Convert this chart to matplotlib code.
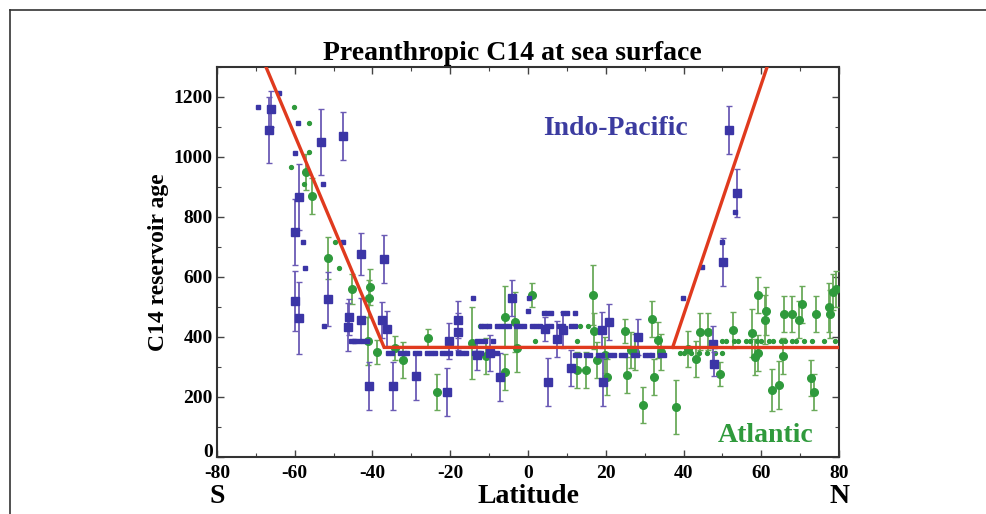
import matplotlib.pyplot as plt
from matplotlib.ticker import MultipleLocator, FuncFormatter
from matplotlib.lines import Line2D

plt.rcParams['axes.unicode_minus'] = False

# Indo-Pacific, points with error bars
bl_lat = [-66.0, -66.5, -60.0, -60.0, -59.0, -59.0, -53.2, -51.5, -47.6, -46.0,
          -46.3, -43.0, -43.0, -37.0, -37.6, -36.3, -41.0, -34.7, -28.7, -20.8,
          -20.2, -17.9, -17.9, -13.2, -9.8, -7.2, -4.1, 4.4, 5.1, 7.5,
          9.0, 11.0, 19.0, 20.8, 19.3, 28.3, 47.6, 47.8, 50.1, 51.7, 53.7]
bl_val = [1160, 1090, 750, 520, 865, 462, 1050, 525, 1070, 465,
          432, 675, 458, 660, 455, 425, 235, 235, 270, 215,
          388, 458, 418, 341, 346, 268, 531, 428, 250, 393,
          424, 297, 424, 451, 251, 401, 378, 311, 651, 1090, 880]
bl_err = [60, 110, 110, 100, 110, 120, 110, 90, 80, 60,
          80, 70, 70, 80, 60, 60, 80, 80, 80, 80,
          60, 60, 60, 50, 60, 80, 60, 40, 80, 60,
          60, 60, 60, 60, 80, 60, 60, 40, 80, 80, 80]

# Indo-Pacific, small points without error bars
bd_lat = [-69.4, -64.0, -59.2, -60.0, -52.7, -57.9, -57.4, -47.6, -52.5, -44.8,
          -14.2, 0.2, 0.0, 39.8, 44.7, 50.0, 53.3,
          -45.5, -44.5, -43.5, -42.5, -41.5,
          -36, -35, -33, -32, -31, -29, -28, -26, -25, -24, -22, -21, -20,
          -18, -17, -16, -14, -13, -12, -10, -9, -8,
          -13, -12, -11, -9,
          -12, -11, -10, -8, -7, -6, -5, -3, -2, -1, 1, 2, 3, 5, 6, 8, 9, 11, 12,
          4, 5, 6, 9, 10, 12,
          12, 13, 15, 16, 18, 19, 21, 22, 24, 25, 27, 28, 30, 31, 32, 34, 35]
bd_val = [1167, 1213, 1113, 1013, 910, 715, 628, 715, 435, 385,
          531, 531, 485, 531, 632, 715, 815,
          385, 385, 385, 385, 385,
          348, 348, 348, 348, 348, 348, 348, 348, 348, 348, 348, 348, 348,
          348, 348, 348, 348, 348, 348, 348, 348, 348,
          385, 385, 385, 385,
          435, 435, 435, 435, 435, 435, 435, 435, 435, 435, 435, 435, 435, 435,
          435, 435, 435, 435, 435,
          480, 480, 480, 480, 480, 480,
          340, 340, 340, 340, 340, 340, 340, 340, 340, 340, 340, 340, 340, 340,
          340, 340, 340]

# Atlantic, points with error bars
gr_lat = [-57.1, -55.6, -51.5, -45.3, -40.7, -40.9, -41.2, -38.8, -34.2, -32.2,
          -25.7, -23.4, -14.4, -10.8, -5.8, -3.4, -5.9, -2.8, 1.0, 12.6,
          14.9, 16.6, 17.1, 17.7, 20.3, 19.8, 24.9, 25.4, 26.5, 27.5,
          29.5, 31.9, 32.4, 33.4, 34.2, 38.0, 41.2, 43.1, 44.2, 46.3,
          49.5, 52.6, 57.6, 58.4, 59.1, 59.1, 61.0, 61.2, 62.7, 64.5,
          65.6, 65.8, 67.9, 69.7, 70.5, 72.8, 73.5, 74.1, 77.4, 77.7,
          78.4, 79.2]
gr_val = [950, 869, 662, 558, 565, 528, 385, 351, 364, 324,
          396, 215, 381, 338, 468, 451, 282, 364, 541, 291,
          291, 540, 420, 324, 267, 341, 420, 272, 358, 351,
          174, 460, 265, 391, 351, 167, 361, 328, 418, 418,
          277, 424, 414, 334, 541, 348, 458, 485, 224, 241,
          338, 475, 475, 458, 508, 264, 217, 475, 498, 475,
          548, 558]
gr_err = [60, 60, 70, 50, 60, 60, 80, 40, 40, 60,
          30, 60, 120, 60, 100, 100, 60, 80, 40, 60,
          60, 100, 60, 60, 60, 60, 40, 60, 60, 60,
          60, 60, 60, 60, 60, 90, 60, 60, 60, 60,
          40, 60, 80, 60, 60, 60, 80, 80, 70, 80,
          60, 60, 60, 60, 60, 60, 60, 60, 80, 80,
          60, 60]

# Atlantic, small points without error bars
gd_lat = [-60.2, -56.3, -56.3, -61.0, -57.6, -49.7, -48.6,
          -11.8, 1.8, -12.3, -10.5, 13.4, 15.5, 12.6,
          39, 40, 42, 44, 46, 48, 50,
          50, 51, 53, 54, 56, 57, 59, 60, 62, 63, 65, 66, 68, 69, 71, 73, 76, 79]
gd_val = [1167, 1113, 1016, 966, 909, 715, 628,
          435, 388, 435, 435, 435, 435, 385,
          348, 348, 348, 348, 348, 348, 348,
          388, 388, 388, 388, 388, 388, 388, 388, 388, 388, 388, 388, 388, 388,
          388, 388, 388, 388]

# red model line
fit_lat = [-67.4, -37.0, 37.2, 61.5]
fit_val = [1300, 365, 365, 1300]
flat_lat = [37.2, 80.0]
flat_val = [365, 365]

blue = '#3b35a6'
blue_bar = '#6b5bb5'
green = '#2f9a3c'
green_bar = '#6aaa5a'
red = '#e03a1e'
serif = 'Liberation Serif'

fig = plt.figure(figsize=(9.86, 5.14), dpi=100)
ax = fig.add_axes([0.220, 0.111, 0.631, 0.759])

ax.errorbar(gr_lat, gr_val, yerr=gr_err, fmt='o', color=green, ms=5.5,
            ecolor=green_bar, elinewidth=1.3, capsize=2.5, capthick=1, zorder=3)
ax.plot(gd_lat, gd_val, 'o', color=green, ms=2.8, zorder=3)
ax.errorbar(bl_lat, bl_val, yerr=bl_err, fmt='s', color=blue, ms=6,
            ecolor=blue_bar, elinewidth=1.3, capsize=2.5, capthick=1, zorder=4)
ax.plot(bd_lat, bd_val, 's', color=blue, ms=3.2, zorder=4)

ax.plot(fit_lat, fit_val, color=red, lw=2.4, zorder=5, solid_joinstyle='miter')
ax.plot(flat_lat, flat_val, color=red, lw=2.4, zorder=5)

ax.set_xlim(-80, 80)
ax.set_ylim(0, 1300)
ax.xaxis.set_major_locator(MultipleLocator(20))
ax.xaxis.set_minor_locator(MultipleLocator(10))
ax.yaxis.set_major_locator(MultipleLocator(200))
ax.yaxis.set_minor_locator(MultipleLocator(100))
# the "0" of the y axis is drawn separately, a bit higher, just above "-80"
ax.yaxis.set_major_formatter(FuncFormatter(lambda v, p: '' if v == 0 else '%d' % v))
ax.tick_params(which='both', direction='in', top=True, right=True,
               color='#444444')
ax.tick_params(which='major', length=5, width=1)
ax.tick_params(which='minor', length=3, width=0.8)
ax.tick_params(axis='x', labelsize=14, pad=6)
ax.tick_params(axis='y', labelsize=14, pad=3)
for lab in ax.get_xticklabels() + ax.get_yticklabels():
    lab.set_fontfamily(serif)
    lab.set_fontweight('bold')
for sp in ax.spines.values():
    sp.set_color('#333333')
    sp.set_linewidth(1.5)

ax.annotate('0', xy=(0, 0), xycoords='axes fraction', xytext=(-2.5, 3.5),
            textcoords='offset points', ha='right', va='center',
            fontfamily=serif, fontweight='bold', fontsize=14)

ax.set_title('Preanthropic C14 at sea surface', fontfamily=serif,
             fontweight='bold', fontsize=20, pad=5, x=0.475)
ax.set_ylabel('C14 reservoir age', fontfamily=serif, fontweight='bold',
              fontsize=17, labelpad=3)
ax.text(0.5, -0.07, 'Latitude', transform=ax.transAxes, ha='center',
        va='top', fontfamily=serif, fontweight='bold', fontsize=20)
ax.text(0.0, -0.07, 'S', transform=ax.transAxes, ha='center', va='top',
        fontfamily=serif, fontweight='bold', fontsize=20)
ax.text(1.0, -0.07, 'N', transform=ax.transAxes, ha='center', va='top',
        fontfamily=serif, fontweight='bold', fontsize=20)
ax.text(22.6, 1093, 'Indo-Pacific', color='#3c3ca0', ha='center', va='center',
        fontfamily=serif, fontweight='bold', fontsize=20)
ax.text(61, 73, 'Atlantic', color=green, ha='center', va='center',
        fontfamily=serif, fontweight='bold', fontsize=20)

# outer frame, top and left edges
fig.add_artist(Line2D([0.010, 1.0], [0.981, 0.981], color='#333333', lw=1.2))
fig.add_artist(Line2D([0.010, 0.010], [0.0, 0.981], color='#333333', lw=1.2))

fig.savefig('out.png', dpi=100)
